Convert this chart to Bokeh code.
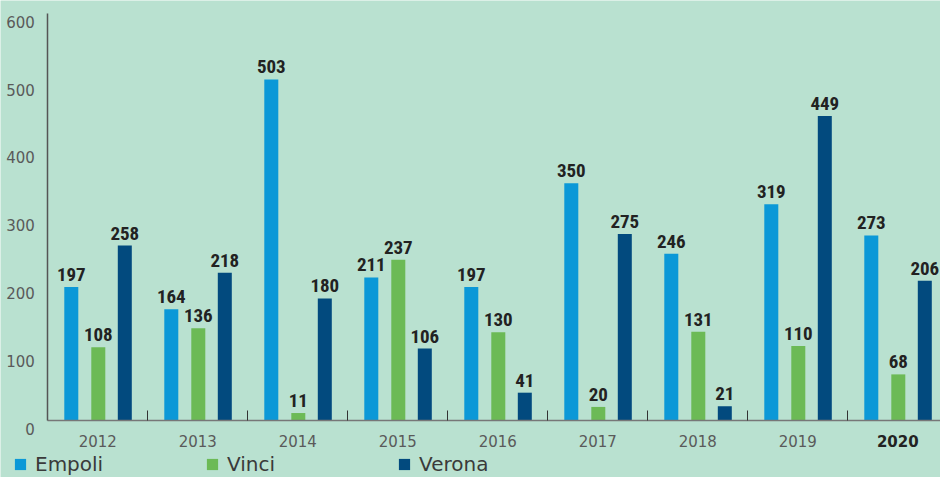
from bokeh.plotting import figure
from bokeh.models import (Range1d, LinearAxis, FixedTicker, ColumnDataSource,
                          Legend, LegendItem)
from bokeh.core.properties import value
from bokeh.embed import file_html
from bokeh.resources import INLINE

years = ["2012", "2013", "2014", "2015", "2016", "2017", "2018", "2019", "2020"]
empoli = [197, 164, 503, 211, 197, 350, 246, 319, 273]
vinci = [108, 136, 11, 237, 130, 20, 131, 110, 68]
verona = [258, 218, 180, 106, 41, 275, 21, 449, 206]
y_ticks = [0, 100, 200, 300, 400, 500, 600]

series = [("Empoli", empoli, "#0b98d7", -0.265),
          ("Vinci", vinci, "#6cba56", 0.005),
          ("Verona", verona, "#024a7e", 0.27)]

BG = "#b9e1d0"
LABEL_FONT = "'Roboto Condensed', 'Liberation Sans Narrow', 'DejaVu Sans Condensed', sans-serif"
AXIS_FONT = "DejaVu Sans"
LABEL_SHIFT = 12  # y tick labels sit slightly below their gridline value

W, H = 940, 477
x0 = -0.5 - 47.3 / 100.0
p = figure(width=W, height=H, output_backend="svg", toolbar_location=None,
           x_range=Range1d(x0, x0 + W / 100.0),
           y_range=Range1d(-84.1, 619.5),
           min_border=0, min_border_left=0, min_border_right=0,
           min_border_top=0, min_border_bottom=0,
           x_axis_type=None, y_axis_type=None)
p.background_fill_color = BG
p.border_fill_color = BG
p.outline_line_color = None
p.xgrid.visible = False
p.ygrid.visible = False

xs = list(range(len(years)))
renderers = []
for name, vals, color, off in series:
    src = ColumnDataSource(dict(x=[i + off for i in xs], top=vals,
                                lab=[str(v) for v in vals]))
    r = p.vbar(x="x", top="top", bottom=0, width=0.14, source=src,
               fill_color=color, line_color=None)
    renderers.append((name, r))
    p.text(x="x", y="top", text="lab", source=src, y_offset=-6,
           text_align="center", text_baseline="bottom",
           text_font=value(LABEL_FONT), text_font_style="bold",
           text_font_size="19px", text_color="#222222")

# Y axis line
yax = LinearAxis(fixed_location=-0.5, bounds=(0, 600),
                 ticker=FixedTicker(ticks=y_ticks))
yax.axis_line_color = "#555555"
yax.axis_line_width = 1.5
yax.major_tick_in = 0
yax.major_tick_out = 0
yax.minor_tick_line_color = None
yax.major_label_text_alpha = 0
p.add_layout(yax, "left")

# Y tick labels
ylab = LinearAxis(fixed_location=-0.5,
                  ticker=FixedTicker(ticks=[t - LABEL_SHIFT for t in y_ticks]),
                  major_label_overrides={t - LABEL_SHIFT: str(t) for t in y_ticks})
ylab.axis_line_color = None
ylab.major_tick_line_color = None
ylab.minor_tick_line_color = None
ylab.major_label_standoff = 7
ylab.major_label_text_font = AXIS_FONT
ylab.major_label_text_font_size = "15px"
ylab.major_label_text_color = "#5a5a5a"
p.add_layout(ylab, "left")

# X axis line with between-group ticks
xtk = LinearAxis(fixed_location=0, bounds=(-0.5, 9),
                 ticker=FixedTicker(ticks=[i + 0.5 for i in xs]))
xtk.axis_line_color = "#777777"
xtk.axis_line_width = 1.5
xtk.major_tick_in = 10
xtk.major_tick_out = 0
xtk.major_tick_line_color = "#333333"
xtk.minor_tick_line_color = None
xtk.major_label_text_alpha = 0
p.add_layout(xtk, "below")

# Year labels (regular)
xl = LinearAxis(fixed_location=0, ticker=FixedTicker(ticks=xs[:-1]),
                major_label_overrides={i: years[i] for i in xs})
xl.axis_line_color = None
xl.major_tick_line_color = None
xl.minor_tick_line_color = None
xl.major_label_standoff = 9
xl.major_label_text_font = AXIS_FONT
xl.major_label_text_font_size = "15px"
xl.major_label_text_color = "#5a5a5a"
p.add_layout(xl, "below")

# Last year label (bold)
xb = LinearAxis(fixed_location=0, ticker=FixedTicker(ticks=xs[-1:]),
                major_label_overrides={xs[-1]: years[-1]})
xb.axis_line_color = None
xb.major_tick_line_color = None
xb.minor_tick_line_color = None
xb.major_label_standoff = 9
xb.major_label_text_font = AXIS_FONT
xb.major_label_text_font_size = "15px"
xb.major_label_text_font_style = "bold"
xb.major_label_text_color = "#222222"
p.add_layout(xb, "below")

legend = Legend(items=[LegendItem(label=n, renderers=[r]) for n, r in renderers],
                orientation="horizontal", location=(13, 1),
                glyph_width=14, glyph_height=14, label_standoff=8,
                label_width=170, spacing=0, padding=0, margin=0,
                label_text_font=AXIS_FONT, label_text_font_size="20px",
                label_text_color="#3a3a3a",
                background_fill_alpha=0, border_line_color=None)
p.add_layout(legend, "center")

open("out.html", "w").write(file_html(p, INLINE))
